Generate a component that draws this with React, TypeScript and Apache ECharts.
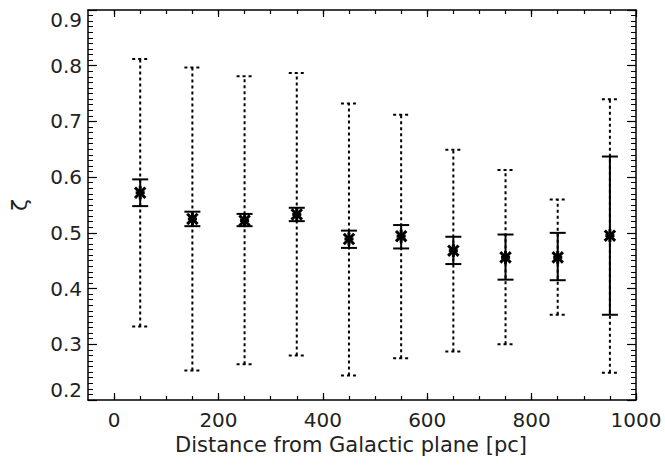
import React, { useEffect, useRef } from "react";
import * as echarts from "echarts";

// Bin centres (distance from the Galactic plane, pc)
const distance = [50, 150, 250, 350, 450, 550, 650, 750, 850, 950];
// Central zeta value in each bin
const zeta = [0.572, 0.525, 0.522, 0.533, 0.489, 0.494, 0.468, 0.456, 0.456, 0.495];
// Solid (small) error bar
const solidLow = [0.548, 0.512, 0.512, 0.521, 0.473, 0.472, 0.444, 0.416, 0.415, 0.353];
const solidHigh = [0.596, 0.538, 0.534, 0.545, 0.504, 0.514, 0.493, 0.497, 0.5, 0.637];
// Dotted (large) error bar
const dottedLow = [0.332, 0.253, 0.264, 0.28, 0.244, 0.275, 0.287, 0.3, 0.353, 0.249];
const dottedHigh = [0.812, 0.797, 0.781, 0.787, 0.732, 0.712, 0.649, 0.613, 0.56, 0.74];

// Tick positions
const xMajorTicks = [0, 200, 400, 600, 800, 1000];
const xMinorTicks = [0, 50, 100, 150, 200, 250, 300, 350, 400, 450, 500, 550, 600, 650, 700, 750, 800, 850, 900, 950, 1000];

const FONT = "DejaVu Sans";

function barRenderer(dashed: boolean) {
  return (params: any, api: any) => {
    const x = api.value(0);
    const lo = api.coord([x, api.value(1)]);
    const hi = api.coord([x, api.value(2)]);
    const hw = 8;
    const style: any = { stroke: "#000", lineWidth: 2, fill: null };
    if (dashed) style.lineDash = [3, 3];
    return {
      type: "group",
      children: [
        { type: "line", shape: { x1: lo[0], y1: lo[1], x2: hi[0], y2: hi[1] }, style },
        { type: "line", shape: { x1: lo[0] - hw, y1: lo[1], x2: lo[0] + hw, y2: lo[1] }, style },
        { type: "line", shape: { x1: hi[0] - hw, y1: hi[1], x2: hi[0] + hw, y2: hi[1] }, style },
      ],
    };
  };
}

function starRenderer(params: any, api: any) {
  const p = api.coord([api.value(0), api.value(1)]);
  const r = 6.5;
  const d = r * 0.8;
  const style = { stroke: "#000", lineWidth: 3 };
  return {
    type: "group",
    children: [
      { type: "line", shape: { x1: p[0], y1: p[1] - r, x2: p[0], y2: p[1] + r }, style },
      { type: "line", shape: { x1: p[0] - d, y1: p[1] - d, x2: p[0] + d, y2: p[1] + d }, style },
      { type: "line", shape: { x1: p[0] - d, y1: p[1] + d, x2: p[0] + d, y2: p[1] - d }, style },
      { type: "line", shape: { x1: p[0] - r * 0.7, y1: p[1], x2: p[0] + r * 0.7, y2: p[1] }, style },
    ],
  };
}

export default function App() {
  const ref = useRef<HTMLDivElement>(null);
  useEffect(() => {
    if (!ref.current) return;
    const chart = echarts.init(ref.current, null, { renderer: "svg" });
    const lineStyle = { color: "#000", width: 1.5 };
    const baseX = {
      type: "value",
      min: -50,
      max: 1000,
      axisLine: { show: true, onZero: false, lineStyle },
      splitLine: { show: false },
    };
    const baseY = {
      type: "value",
      min: 0.2,
      max: 0.9,
      interval: 0.1,
      axisLine: { show: true, onZero: false, lineStyle },
      splitLine: { show: false },
    };
    const option: any = {
      animation: false,
      grid: { left: 85, right: 29, top: 10, bottom: 69, containLabel: false },
      xAxis: [
        {
          ...baseX,
          position: "bottom",
          name: "Distance from Galactic plane [pc]",
          nameLocation: "middle",
          nameGap: 33,
          nameTextStyle: { fontFamily: FONT, fontSize: 21, color: "#222", padding: [0, 22, 0, 0] },
          axisTick: { show: true, inside: true, length: 7, customValues: xMajorTicks, lineStyle: { color: "#000", width: 1.2 } },
          axisLabel: {
            show: true,
            customValues: xMajorTicks,
            margin: 10,
            fontFamily: FONT,
            fontSize: 20,
            color: "#222",
            formatter: (v: number) => String(v),
          },
        },
        {
          ...baseX,
          position: "bottom",
          axisLine: { show: false },
          axisTick: { show: true, inside: true, length: 4, customValues: xMinorTicks, lineStyle: { color: "#000", width: 1.2 } },
          axisLabel: { show: false },
        },
        {
          ...baseX,
          position: "top",
          axisTick: { show: true, inside: true, length: 7, customValues: xMajorTicks, lineStyle: { color: "#000", width: 1.2 } },
          axisLabel: { show: false },
        },
        {
          ...baseX,
          position: "top",
          axisLine: { show: false },
          axisTick: { show: true, inside: true, length: 4, customValues: xMinorTicks, lineStyle: { color: "#000", width: 1.2 } },
          axisLabel: { show: false },
        },
      ],
      yAxis: [
        {
          ...baseY,
          position: "left",
          name: "ζ",
          nameLocation: "middle",
          nameRotate: 90,
          nameGap: 58,
          nameTextStyle: { fontFamily: FONT, fontSize: 22, color: "#222" },
          axisTick: { show: true, inside: true, length: 9, lineStyle: { color: "#000", width: 1.2 } },
          minorTick: { show: true, splitNumber: 10, length: 5, lineStyle: { color: "#000", width: 1 } },
          axisLabel: {
            show: true,
            margin: 6,
            fontFamily: FONT,
            fontSize: 20,
            color: "#222",
            verticalAlignMaxLabel: "top",
            verticalAlignMinLabel: "bottom",
            formatter: (v: number) => v.toFixed(1),
          },
        },
        {
          ...baseY,
          position: "right",
          axisTick: { show: true, inside: true, length: 9, lineStyle: { color: "#000", width: 1.2 } },
          minorTick: { show: true, splitNumber: 10, length: 5, lineStyle: { color: "#000", width: 1 } },
          axisLabel: { show: false },
        },
      ],
      series: [
        {
          name: "range",
          type: "custom",
          xAxisIndex: 0,
          yAxisIndex: 0,
          renderItem: barRenderer(true),
          encode: { x: 0, y: [1, 2] },
          data: distance.map((d, i) => [d, dottedLow[i], dottedHigh[i]]),
          z: 2,
        },
        {
          name: "error",
          type: "custom",
          xAxisIndex: 0,
          yAxisIndex: 0,
          renderItem: barRenderer(false),
          encode: { x: 0, y: [1, 2] },
          data: distance.map((d, i) => [d, solidLow[i], solidHigh[i]]),
          z: 3,
        },
        {
          name: "zeta",
          type: "custom",
          xAxisIndex: 0,
          yAxisIndex: 0,
          renderItem: starRenderer,
          encode: { x: 0, y: 1 },
          data: distance.map((d, i) => [d, zeta[i]]),
          z: 4,
        },
      ],
    };
    chart.setOption(option);
    return () => chart.dispose();
  }, []);
  return (
    <div
      ref={ref}
      style={{ position: "absolute", left: 0, top: 0, width: 665, height: 469, background: "#fff" }}
    />
  );
}
